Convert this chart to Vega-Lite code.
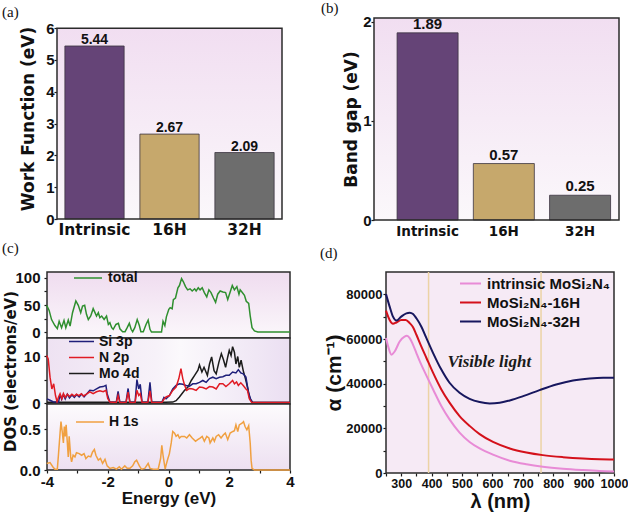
{
"$schema": "https://vega.github.io/schema/vega-lite/v6.json",
"padding": {"left": 1, "top": 1, "right": 0, "bottom": 0},
"background": "white",
"datasets": {
"bars_a": [{"sample": "Intrinsic", "value": 5.44}, {"sample": "16H", "value": 2.67}, {"sample": "32H", "value": 2.09}],
"bars_b": [{"sample": "Intrinsic", "value": 1.89}, {"sample": "16H", "value": 0.57}, {"sample": "32H", "value": 0.25}],
"tot": [{"E":-4.01,"v":49.4},{"E":-3.93,"v":40},{"E":-3.85,"v":23},{"E":-3.74,"v":12},{"E":-3.66,"v":6.2},{"E":-3.6,"v":20},{"E":-3.52,"v":8},{"E":-3.44,"v":21.6},{"E":-3.38,"v":8},{"E":-3.3,"v":22},{"E":-3.24,"v":11},{"E":-3.16,"v":35.8},{"E":-3.05,"v":57.4},{"E":-2.97,"v":49.4},{"E":-2.89,"v":35.8},{"E":-2.83,"v":48},{"E":-2.76,"v":49.4},{"E":-2.7,"v":32.7},{"E":-2.64,"v":23},{"E":-2.56,"v":29.6},{"E":-2.48,"v":43.2},{"E":-2.42,"v":35.8},{"E":-2.37,"v":29.6},{"E":-2.31,"v":35.8},{"E":-2.26,"v":26.5},{"E":-2.2,"v":29.6},{"E":-2.12,"v":23.4},{"E":-2.04,"v":29.6},{"E":-1.98,"v":14.2},{"E":-1.93,"v":17.3},{"E":-1.87,"v":8},{"E":-1.82,"v":5},{"E":-1.73,"v":14},{"E":-1.65,"v":16},{"E":-1.6,"v":6},{"E":-1.51,"v":0.6},{"E":-1.43,"v":0.6},{"E":-1.36,"v":8},{"E":-1.29,"v":16},{"E":-1.23,"v":5},{"E":-1.18,"v":0.6},{"E":-1.11,"v":8},{"E":-1.03,"v":23},{"E":-0.96,"v":12},{"E":-0.91,"v":0.6},{"E":-0.83,"v":0.6},{"E":-0.74,"v":14},{"E":-0.67,"v":22},{"E":-0.61,"v":5},{"E":-0.56,"v":0},{"E":-0.23,"v":0},{"E":-0.18,"v":20},{"E":-0.12,"v":12},{"E":-0.07,"v":28},{"E":0.01,"v":42},{"E":0.055,"v":45},{"E":0.12,"v":43},{"E":0.16,"v":60},{"E":0.23,"v":63},{"E":0.31,"v":82},{"E":0.36,"v":86},{"E":0.43,"v":99},{"E":0.49,"v":93},{"E":0.56,"v":84},{"E":0.63,"v":78},{"E":0.71,"v":80},{"E":0.78,"v":76},{"E":0.86,"v":80},{"E":0.91,"v":76},{"E":0.98,"v":82},{"E":1.04,"v":78},{"E":1.11,"v":82},{"E":1.18,"v":73},{"E":1.26,"v":65},{"E":1.33,"v":78},{"E":1.4,"v":73},{"E":1.48,"v":63},{"E":1.55,"v":55},{"E":1.62,"v":70},{"E":1.7,"v":76},{"E":1.79,"v":74},{"E":1.88,"v":73},{"E":1.95,"v":60},{"E":2.03,"v":74},{"E":2.1,"v":86},{"E":2.17,"v":78},{"E":2.25,"v":84},{"E":2.32,"v":70},{"E":2.36,"v":78},{"E":2.43,"v":73},{"E":2.5,"v":68},{"E":2.56,"v":57},{"E":2.64,"v":53},{"E":2.69,"v":30},{"E":2.75,"v":8},{"E":2.83,"v":2},{"E":2.94,"v":0},{"E":4.0,"v":0}],
"pdos": [
{"s":"Mo 4d","E":-4.0,"v":0.15},{"s":"Mo 4d","E":-0.1,"v":0.15},{"s":"Mo 4d","E":0.14,"v":0.2},{"s":"Mo 4d","E":0.25,"v":0.5},{"s":"Mo 4d","E":0.36,"v":1.3},{"s":"Mo 4d","E":0.53,"v":2.7},{"s":"Mo 4d","E":0.64,"v":3.4},{"s":"Mo 4d","E":0.75,"v":4.8},{"s":"Mo 4d","E":0.86,"v":5.9},{"s":"Mo 4d","E":0.97,"v":7.0},{"s":"Mo 4d","E":1.02,"v":8.1},{"s":"Mo 4d","E":1.1,"v":6.6},{"s":"Mo 4d","E":1.17,"v":7.6},{"s":"Mo 4d","E":1.28,"v":5.9},{"s":"Mo 4d","E":1.35,"v":8.3},{"s":"Mo 4d","E":1.42,"v":9.8},{"s":"Mo 4d","E":1.5,"v":6.9},{"s":"Mo 4d","E":1.57,"v":6.2},{"s":"Mo 4d","E":1.66,"v":8.7},{"s":"Mo 4d","E":1.74,"v":10.5},{"s":"Mo 4d","E":1.81,"v":9.2},{"s":"Mo 4d","E":1.88,"v":7.6},{"s":"Mo 4d","E":1.95,"v":9.8},{"s":"Mo 4d","E":2.0,"v":11.2},{"s":"Mo 4d","E":2.06,"v":10.1},{"s":"Mo 4d","E":2.11,"v":12.0},{"s":"Mo 4d","E":2.17,"v":10.8},{"s":"Mo 4d","E":2.22,"v":8.3},{"s":"Mo 4d","E":2.28,"v":9.9},{"s":"Mo 4d","E":2.33,"v":7.6},{"s":"Mo 4d","E":2.39,"v":9.1},{"s":"Mo 4d","E":2.46,"v":6.9},{"s":"Mo 4d","E":2.52,"v":5.5},{"s":"Mo 4d","E":2.6,"v":3.4},{"s":"Mo 4d","E":2.68,"v":0.9},{"s":"Mo 4d","E":2.77,"v":0.1},{"s":"Mo 4d","E":4.0,"v":0.1},
{"s":"Si 3p","E":-4.0,"v":0.9},{"s":"Si 3p","E":-3.9,"v":0.6},{"s":"Si 3p","E":-3.8,"v":0.3},{"s":"Si 3p","E":-3.62,"v":0.2},{"s":"Si 3p","E":-3.57,"v":1.9},{"s":"Si 3p","E":-3.52,"v":0.8},{"s":"Si 3p","E":-3.46,"v":1.8},{"s":"Si 3p","E":-3.4,"v":0.9},{"s":"Si 3p","E":-3.33,"v":1.9},{"s":"Si 3p","E":-3.26,"v":1.1},{"s":"Si 3p","E":-3.18,"v":1.7},{"s":"Si 3p","E":-3.1,"v":1.2},{"s":"Si 3p","E":-3.02,"v":1.8},{"s":"Si 3p","E":-2.94,"v":1.3},{"s":"Si 3p","E":-2.86,"v":1.9},{"s":"Si 3p","E":-2.78,"v":1.3},{"s":"Si 3p","E":-2.7,"v":1.9},{"s":"Si 3p","E":-2.59,"v":2.7},{"s":"Si 3p","E":-2.48,"v":2.6},{"s":"Si 3p","E":-2.37,"v":3.0},{"s":"Si 3p","E":-2.26,"v":3.4},{"s":"Si 3p","E":-2.15,"v":3.5},{"s":"Si 3p","E":-2.06,"v":3.75},{"s":"Si 3p","E":-2.02,"v":2.0},{"s":"Si 3p","E":-1.93,"v":0.2},{"s":"Si 3p","E":-1.72,"v":0.15},{"s":"Si 3p","E":-1.66,"v":2.5},{"s":"Si 3p","E":-1.6,"v":0.15},{"s":"Si 3p","E":-1.4,"v":0.15},{"s":"Si 3p","E":-1.33,"v":3.1},{"s":"Si 3p","E":-1.27,"v":0.15},{"s":"Si 3p","E":-1.1,"v":0.15},{"s":"Si 3p","E":-1.04,"v":5.0},{"s":"Si 3p","E":-0.98,"v":3.0},{"s":"Si 3p","E":-0.93,"v":4.0},{"s":"Si 3p","E":-0.87,"v":0.2},{"s":"Si 3p","E":-0.68,"v":0.15},{"s":"Si 3p","E":-0.61,"v":4.4},{"s":"Si 3p","E":-0.55,"v":0.15},{"s":"Si 3p","E":-0.22,"v":0.15},{"s":"Si 3p","E":-0.15,"v":1.2},{"s":"Si 3p","E":-0.08,"v":0.9},{"s":"Si 3p","E":0.03,"v":1.6},{"s":"Si 3p","E":0.14,"v":3.0},{"s":"Si 3p","E":0.25,"v":3.75},{"s":"Si 3p","E":0.36,"v":4.1},{"s":"Si 3p","E":0.47,"v":4.0},{"s":"Si 3p","E":0.58,"v":3.75},{"s":"Si 3p","E":0.69,"v":3.6},{"s":"Si 3p","E":0.8,"v":4.1},{"s":"Si 3p","E":0.91,"v":4.1},{"s":"Si 3p","E":1.02,"v":4.4},{"s":"Si 3p","E":1.13,"v":4.8},{"s":"Si 3p","E":1.24,"v":4.4},{"s":"Si 3p","E":1.35,"v":5.2},{"s":"Si 3p","E":1.46,"v":5.5},{"s":"Si 3p","E":1.57,"v":5.2},{"s":"Si 3p","E":1.68,"v":5.5},{"s":"Si 3p","E":1.79,"v":5.6},{"s":"Si 3p","E":1.89,"v":5.9},{"s":"Si 3p","E":2.0,"v":5.9},{"s":"Si 3p","E":2.11,"v":6.6},{"s":"Si 3p","E":2.22,"v":6.4},{"s":"Si 3p","E":2.3,"v":7.1},{"s":"Si 3p","E":2.38,"v":6.4},{"s":"Si 3p","E":2.46,"v":6.2},{"s":"Si 3p","E":2.55,"v":5.5},{"s":"Si 3p","E":2.63,"v":2.3},{"s":"Si 3p","E":2.7,"v":0.9},{"s":"Si 3p","E":2.77,"v":0.1},{"s":"Si 3p","E":4.0,"v":0.1},
{"s":"N 2p","E":-4.01,"v":10.1},{"s":"N 2p","E":-3.96,"v":9.4},{"s":"N 2p","E":-3.9,"v":5.5},{"s":"N 2p","E":-3.84,"v":3.0},{"s":"N 2p","E":-3.78,"v":4.1},{"s":"N 2p","E":-3.72,"v":1.6},{"s":"N 2p","E":-3.67,"v":0.3},{"s":"N 2p","E":-3.62,"v":1.3},{"s":"N 2p","E":-3.57,"v":2.0},{"s":"N 2p","E":-3.51,"v":0.9},{"s":"N 2p","E":-3.46,"v":2.0},{"s":"N 2p","E":-3.4,"v":1.2},{"s":"N 2p","E":-3.33,"v":1.9},{"s":"N 2p","E":-3.26,"v":1.4},{"s":"N 2p","E":-3.18,"v":1.9},{"s":"N 2p","E":-3.1,"v":1.5},{"s":"N 2p","E":-3.03,"v":1.9},{"s":"N 2p","E":-2.95,"v":1.6},{"s":"N 2p","E":-2.87,"v":2.0},{"s":"N 2p","E":-2.8,"v":1.5},{"s":"N 2p","E":-2.7,"v":1.9},{"s":"N 2p","E":-2.59,"v":2.4},{"s":"N 2p","E":-2.48,"v":2.0},{"s":"N 2p","E":-2.37,"v":2.4},{"s":"N 2p","E":-2.26,"v":2.6},{"s":"N 2p","E":-2.15,"v":2.4},{"s":"N 2p","E":-2.06,"v":2.7},{"s":"N 2p","E":-2.0,"v":1.0},{"s":"N 2p","E":-1.93,"v":0.2},{"s":"N 2p","E":-1.72,"v":0.1},{"s":"N 2p","E":-1.66,"v":1.6},{"s":"N 2p","E":-1.6,"v":0.1},{"s":"N 2p","E":-1.4,"v":0.1},{"s":"N 2p","E":-1.33,"v":2.3},{"s":"N 2p","E":-1.27,"v":0.1},{"s":"N 2p","E":-1.1,"v":0.1},{"s":"N 2p","E":-1.04,"v":2.7},{"s":"N 2p","E":-0.98,"v":1.6},{"s":"N 2p","E":-0.93,"v":2.0},{"s":"N 2p","E":-0.87,"v":0.1},{"s":"N 2p","E":-0.68,"v":0.1},{"s":"N 2p","E":-0.61,"v":2.6},{"s":"N 2p","E":-0.55,"v":0.1},{"s":"N 2p","E":-0.22,"v":0.1},{"s":"N 2p","E":-0.15,"v":0.8},{"s":"N 2p","E":-0.08,"v":1.3},{"s":"N 2p","E":0.03,"v":1.6},{"s":"N 2p","E":0.14,"v":2.7},{"s":"N 2p","E":0.25,"v":3.4},{"s":"N 2p","E":0.34,"v":5.2},{"s":"N 2p","E":0.41,"v":7.3},{"s":"N 2p","E":0.47,"v":5.2},{"s":"N 2p","E":0.53,"v":3.8},{"s":"N 2p","E":0.6,"v":2.7},{"s":"N 2p","E":0.69,"v":3.1},{"s":"N 2p","E":0.8,"v":3.0},{"s":"N 2p","E":0.91,"v":2.7},{"s":"N 2p","E":1.02,"v":3.4},{"s":"N 2p","E":1.13,"v":3.3},{"s":"N 2p","E":1.24,"v":3.0},{"s":"N 2p","E":1.35,"v":3.5},{"s":"N 2p","E":1.46,"v":3.4},{"s":"N 2p","E":1.57,"v":3.0},{"s":"N 2p","E":1.68,"v":4.1},{"s":"N 2p","E":1.79,"v":4.1},{"s":"N 2p","E":1.89,"v":3.5},{"s":"N 2p","E":2.0,"v":4.1},{"s":"N 2p","E":2.11,"v":4.8},{"s":"N 2p","E":2.17,"v":4.1},{"s":"N 2p","E":2.24,"v":4.5},{"s":"N 2p","E":2.3,"v":3.75},{"s":"N 2p","E":2.38,"v":4.3},{"s":"N 2p","E":2.46,"v":3.75},{"s":"N 2p","E":2.55,"v":3.0},{"s":"N 2p","E":2.6,"v":2.7},{"s":"N 2p","E":2.66,"v":0.9},{"s":"N 2p","E":2.74,"v":0.1},{"s":"N 2p","E":4.0,"v":0.1}],
"h1s": [{"E":-4.01,"v":0.08},{"E":-3.9,"v":0.09},{"E":-3.81,"v":0.04},{"E":-3.74,"v":0.01},{"E":-3.66,"v":0.01},{"E":-3.62,"v":0.2},{"E":-3.57,"v":0.45},{"E":-3.54,"v":0.59},{"E":-3.5,"v":0.47},{"E":-3.46,"v":0.33},{"E":-3.43,"v":0.53},{"E":-3.4,"v":0.41},{"E":-3.37,"v":0.55},{"E":-3.33,"v":0.33},{"E":-3.3,"v":0.16},{"E":-3.27,"v":0.41},{"E":-3.22,"v":0.16},{"E":-3.19,"v":0.1},{"E":-3.14,"v":0.18},{"E":-3.08,"v":0.16},{"E":-3.03,"v":0.21},{"E":-2.94,"v":0.2},{"E":-2.86,"v":0.18},{"E":-2.78,"v":0.2},{"E":-2.72,"v":0.14},{"E":-2.64,"v":0.17},{"E":-2.56,"v":0.16},{"E":-2.5,"v":0.22},{"E":-2.44,"v":0.25},{"E":-2.39,"v":0.18},{"E":-2.31,"v":0.12},{"E":-2.24,"v":0.14},{"E":-2.17,"v":0.08},{"E":-2.09,"v":0.13},{"E":-2.02,"v":0.05},{"E":-1.93,"v":0.02},{"E":-1.82,"v":0.03},{"E":-1.71,"v":0.01},{"E":-1.62,"v":0.04},{"E":-1.55,"v":0.01},{"E":-1.44,"v":0.05},{"E":-1.36,"v":0.02},{"E":-1.27,"v":0.02},{"E":-1.18,"v":0.05},{"E":-1.11,"v":0.1},{"E":-1.05,"v":0.12},{"E":-0.96,"v":0.05},{"E":-0.89,"v":0.01},{"E":-0.78,"v":0.02},{"E":-0.67,"v":0.08},{"E":-0.61,"v":0.02},{"E":-0.5,"v":0.01},{"E":-0.34,"v":0.01},{"E":-0.26,"v":0.14},{"E":-0.22,"v":0.3},{"E":-0.18,"v":0.18},{"E":-0.11,"v":0.01},{"E":-0.08,"v":0.06},{"E":-0.02,"v":0.14},{"E":0.03,"v":0.2},{"E":0.09,"v":0.33},{"E":0.14,"v":0.47},{"E":0.2,"v":0.45},{"E":0.25,"v":0.41},{"E":0.31,"v":0.43},{"E":0.36,"v":0.39},{"E":0.42,"v":0.41},{"E":0.53,"v":0.41},{"E":0.6,"v":0.39},{"E":0.69,"v":0.43},{"E":0.78,"v":0.39},{"E":0.89,"v":0.35},{"E":0.96,"v":0.37},{"E":1.04,"v":0.39},{"E":1.11,"v":0.41},{"E":1.18,"v":0.35},{"E":1.26,"v":0.41},{"E":1.33,"v":0.39},{"E":1.37,"v":0.33},{"E":1.46,"v":0.39},{"E":1.51,"v":0.35},{"E":1.57,"v":0.41},{"E":1.65,"v":0.43},{"E":1.73,"v":0.39},{"E":1.81,"v":0.43},{"E":1.87,"v":0.45},{"E":1.95,"v":0.37},{"E":2.03,"v":0.45},{"E":2.12,"v":0.47},{"E":2.17,"v":0.48},{"E":2.22,"v":0.55},{"E":2.28,"v":0.47},{"E":2.33,"v":0.55},{"E":2.42,"v":0.57},{"E":2.47,"v":0.59},{"E":2.52,"v":0.53},{"E":2.58,"v":0.49},{"E":2.64,"v":0.54},{"E":2.69,"v":0.33},{"E":2.72,"v":0.12},{"E":2.75,"v":0.02},{"E":2.83,"v":0},{"E":4.0,"v":0}],
"alpha": [
{"sample":"intrinsic MoSi₂N₄","lambda":250,"alpha":60400},{"sample":"intrinsic MoSi₂N₄","lambda":257,"alpha":56700},{"sample":"intrinsic MoSi₂N₄","lambda":268,"alpha":53000},{"sample":"intrinsic MoSi₂N₄","lambda":279,"alpha":54500},{"sample":"intrinsic MoSi₂N₄","lambda":295,"alpha":58900},{"sample":"intrinsic MoSi₂N₄","lambda":311,"alpha":61100},{"sample":"intrinsic MoSi₂N₄","lambda":319,"alpha":61400},{"sample":"intrinsic MoSi₂N₄","lambda":328,"alpha":60400},{"sample":"intrinsic MoSi₂N₄","lambda":339,"alpha":57400},{"sample":"intrinsic MoSi₂N₄","lambda":350,"alpha":53700},{"sample":"intrinsic MoSi₂N₄","lambda":366,"alpha":48500},{"sample":"intrinsic MoSi₂N₄","lambda":383,"alpha":43600},{"sample":"intrinsic MoSi₂N₄","lambda":405,"alpha":37400},{"sample":"intrinsic MoSi₂N₄","lambda":432,"alpha":30000},{"sample":"intrinsic MoSi₂N₄","lambda":459,"alpha":24000},{"sample":"intrinsic MoSi₂N₄","lambda":492,"alpha":18100},{"sample":"intrinsic MoSi₂N₄","lambda":525,"alpha":13900},{"sample":"intrinsic MoSi₂N₄","lambda":558,"alpha":11000},{"sample":"intrinsic MoSi₂N₄","lambda":602,"alpha":8200},{"sample":"intrinsic MoSi₂N₄","lambda":657,"alpha":5500},{"sample":"intrinsic MoSi₂N₄","lambda":712,"alpha":3900},{"sample":"intrinsic MoSi₂N₄","lambda":766,"alpha":2800},{"sample":"intrinsic MoSi₂N₄","lambda":832,"alpha":1900},{"sample":"intrinsic MoSi₂N₄","lambda":898,"alpha":1300},{"sample":"intrinsic MoSi₂N₄","lambda":953,"alpha":900},{"sample":"intrinsic MoSi₂N₄","lambda":1000,"alpha":700},
{"sample":"MoSi₂N₄-16H","lambda":250,"alpha":72700},{"sample":"MoSi₂N₄-16H","lambda":262,"alpha":68500},{"sample":"MoSi₂N₄-16H","lambda":273,"alpha":66800},{"sample":"MoSi₂N₄-16H","lambda":284,"alpha":67400},{"sample":"MoSi₂N₄-16H","lambda":300,"alpha":68500},{"sample":"MoSi₂N₄-16H","lambda":315,"alpha":68500},{"sample":"MoSi₂N₄-16H","lambda":328,"alpha":67100},{"sample":"MoSi₂N₄-16H","lambda":339,"alpha":65300},{"sample":"MoSi₂N₄-16H","lambda":350,"alpha":61900},{"sample":"MoSi₂N₄-16H","lambda":366,"alpha":56700},{"sample":"MoSi₂N₄-16H","lambda":383,"alpha":51500},{"sample":"MoSi₂N₄-16H","lambda":405,"alpha":44800},{"sample":"MoSi₂N₄-16H","lambda":432,"alpha":37400},{"sample":"MoSi₂N₄-16H","lambda":459,"alpha":31500},{"sample":"MoSi₂N₄-16H","lambda":492,"alpha":25500},{"sample":"MoSi₂N₄-16H","lambda":525,"alpha":21100},{"sample":"MoSi₂N₄-16H","lambda":558,"alpha":17400},{"sample":"MoSi₂N₄-16H","lambda":602,"alpha":13900},{"sample":"MoSi₂N₄-16H","lambda":657,"alpha":11000},{"sample":"MoSi₂N₄-16H","lambda":712,"alpha":9200},{"sample":"MoSi₂N₄-16H","lambda":766,"alpha":8000},{"sample":"MoSi₂N₄-16H","lambda":832,"alpha":7100},{"sample":"MoSi₂N₄-16H","lambda":898,"alpha":6500},{"sample":"MoSi₂N₄-16H","lambda":953,"alpha":6200},{"sample":"MoSi₂N₄-16H","lambda":1000,"alpha":6100},
{"sample":"MoSi₂N₄-32H","lambda":250,"alpha":80100},{"sample":"MoSi₂N₄-32H","lambda":262,"alpha":74500},{"sample":"MoSi₂N₄-32H","lambda":273,"alpha":70000},{"sample":"MoSi₂N₄-32H","lambda":284,"alpha":68250},{"sample":"MoSi₂N₄-32H","lambda":300,"alpha":70000},{"sample":"MoSi₂N₄-32H","lambda":317,"alpha":71500},{"sample":"MoSi₂N₄-32H","lambda":328,"alpha":71800},{"sample":"MoSi₂N₄-32H","lambda":339,"alpha":71200},{"sample":"MoSi₂N₄-32H","lambda":350,"alpha":69300},{"sample":"MoSi₂N₄-32H","lambda":366,"alpha":65600},{"sample":"MoSi₂N₄-32H","lambda":383,"alpha":60400},{"sample":"MoSi₂N₄-32H","lambda":405,"alpha":53700},{"sample":"MoSi₂N₄-32H","lambda":432,"alpha":46300},{"sample":"MoSi₂N₄-32H","lambda":459,"alpha":40400},{"sample":"MoSi₂N₄-32H","lambda":492,"alpha":35900},{"sample":"MoSi₂N₄-32H","lambda":525,"alpha":33200},{"sample":"MoSi₂N₄-32H","lambda":558,"alpha":31750},{"sample":"MoSi₂N₄-32H","lambda":591,"alpha":31150},{"sample":"MoSi₂N₄-32H","lambda":624,"alpha":31450},{"sample":"MoSi₂N₄-32H","lambda":657,"alpha":32500},{"sample":"MoSi₂N₄-32H","lambda":701,"alpha":34400},{"sample":"MoSi₂N₄-32H","lambda":755,"alpha":37100},{"sample":"MoSi₂N₄-32H","lambda":810,"alpha":39600},{"sample":"MoSi₂N₄-32H","lambda":865,"alpha":41400},{"sample":"MoSi₂N₄-32H","lambda":920,"alpha":42300},{"sample":"MoSi₂N₄-32H","lambda":964,"alpha":42600},{"sample":"MoSi₂N₄-32H","lambda":1000,"alpha":42600}]
},
"spacing": 3,
"resolve": {"scale": {"color": "independent"}, "legend": {"color": "independent"}},
"vconcat": [
{"spacing": 0,
 "resolve": {"scale": {"color": "independent"}, "legend": {"color": "independent"}},
 "hconcat": [
  {"width": 1, "height": 1, "data": {"values": [{}]}, "mark": {"type": "rect", "opacity": 0}, "encoding": {}},
  {"spacing": 38,
   "resolve": {"scale": {"color": "independent"}, "legend": {"color": "independent"}},
   "hconcat": [
    {"width": 225, "height": 201,
     "title": {"text": "(a)", "dx": -55, "offset": -1.5},
     "layer": [
      {"data": {"values": [{}]},
       "mark": {"type": "rect", "fill": {"gradient": "linear", "x1": 0, "y1": 0, "x2": 0, "y2": 1, "stops": [{"offset": 0, "color": "#f1def1"}, {"offset": 1, "color": "#fbf8fb"}]}},
       "encoding": {"y": {"datum": 0, "type": "quantitative"}, "y2": {"datum": 6}}},
      {"data": {"name": "bars_a"},
       "mark": {"type": "bar", "stroke": "#3b3340", "strokeWidth": 0.8},
       "encoding": {
        "x": {"field": "sample", "type": "nominal", "scale": {"domain": ["Intrinsic", "16H", "32H"], "paddingInner": 0.21, "paddingOuter": 0.105}, "axis": {"title": null, "ticks": false, "labelAngle": 0, "labelPadding": 3, "labelOverlap": false, "labelFont": "DejaVu Sans", "labelFontSize": 15.5}},
        "y": {"field": "value", "type": "quantitative", "scale": {"domain": [0, 6.32], "nice": false}, "axis": {"values": [0, 1, 2, 3, 4, 5, 6], "tickCount": 50, "format": "d", "labelOverlap": false, "labelFontSize": 15, "title": "Work Function (eV)", "titleFont": "DejaVu Sans", "titleFontSize": 17, "titlePadding": 8, "labelPadding": 0}},
        "color": {"field": "sample", "type": "nominal", "scale": {"domain": ["Intrinsic", "16H", "32H"], "range": ["#654477", "#c6a86c", "#6d6d6d"]}, "legend": null}}},
      {"data": {"name": "bars_a"},
       "mark": {"type": "text", "baseline": "alphabetic", "dy": -2, "fontSize": 14, "fontWeight": "bold", "font": "Liberation Sans", "color": "#111111"},
       "encoding": {"x": {"field": "sample", "type": "nominal"}, "y": {"field": "value", "type": "quantitative"}, "text": {"field": "value", "type": "quantitative", "format": ".2f"}}},
      {"data": {"values": [{}]},
       "mark": {"type": "rect", "fill": "transparent", "stroke": "#2b2b2b", "strokeWidth": 1.5},
       "encoding": {"y": {"datum": 0, "type": "quantitative"}, "y2": {"datum": 6}}}
     ]},
    {"width": 245, "height": 202,
     "title": {"text": "(b)", "dx": -53, "offset": -1.5},
     "layer": [
      {"data": {"values": [{}]},
       "mark": {"type": "rect", "fill": {"gradient": "linear", "x1": 0, "y1": 0, "x2": 0, "y2": 1, "stops": [{"offset": 0, "color": "#f1def1"}, {"offset": 1, "color": "#fbf8fb"}]}},
       "encoding": {"y": {"datum": 0, "type": "quantitative"}, "y2": {"datum": 2.04}}},
      {"data": {"name": "bars_b"},
       "mark": {"type": "bar", "stroke": "#3b3340", "strokeWidth": 0.8},
       "encoding": {
        "x": {"field": "sample", "type": "nominal", "scale": {"domain": ["Intrinsic", "16H", "32H"], "paddingInner": 0.2, "paddingOuter": 0.2065, "align": 0.733}, "axis": {"title": null, "ticks": false, "labelAngle": 0, "labelPadding": 4, "labelOverlap": false, "labelFont": "DejaVu Sans", "labelFontSize": 13.5}},
        "y": {"field": "value", "type": "quantitative", "scale": {"domain": [0, 2.04], "nice": false}, "axis": {"values": [0, 1, 2], "tickCount": 50, "labelExpr": "'' + round(datum.value)", "labelOverlap": false, "labelBound": false, "labelFontSize": 15, "title": "Band gap (eV)", "titleFont": "DejaVu Sans", "titleFontSize": 17, "titlePadding": 2, "labelPadding": 0}},
        "color": {"field": "sample", "type": "nominal", "scale": {"domain": ["Intrinsic", "16H", "32H"], "range": ["#654477", "#c6a86c", "#6d6d6d"]}, "legend": null}}},
      {"data": {"name": "bars_b"},
       "mark": {"type": "text", "baseline": "alphabetic", "dy": -4, "fontSize": 15, "fontWeight": "bold", "font": "Liberation Sans", "color": "#111111"},
       "encoding": {"x": {"field": "sample", "type": "nominal"}, "y": {"field": "value", "type": "quantitative"}, "text": {"field": "value", "type": "quantitative", "format": ".2f"}}},
      {"data": {"values": [{}]},
       "mark": {"type": "rect", "fill": "transparent", "stroke": "#2b2b2b", "strokeWidth": 1.5},
       "encoding": {"y": {"datum": 0, "type": "quantitative"}, "y2": {"datum": 2.04}}}
     ]}
   ]}
 ]},
{"spacing": 0,
 "resolve": {"scale": {"color": "independent"}, "legend": {"color": "independent"}},
 "hconcat": [
  {"width": 1, "height": 1, "data": {"values": [{}]}, "mark": {"type": "rect", "opacity": 0}, "encoding": {}},
  {"spacing": 25,
   "resolve": {"scale": {"color": "independent"}, "legend": {"color": "independent"}},
   "hconcat": [
    {"spacing": 0, "bounds": "flush",
     "resolve": {"scale": {"color": "independent"}, "legend": {"color": "independent"}},
     "vconcat": [
      {"width": 243, "height": 66,
       "title": {"text": "(c)", "dx": -45, "offset": 14},
       "layer": [
        {"data": {"values": [{}]},
         "mark": {"type": "rect", "fill": {"gradient": "linear", "x1": 0, "y1": 0, "x2": 0, "y2": 1, "stops": [{"offset": 0, "color": "#efdcef"}, {"offset": 1, "color": "#fbf7fb"}]}, "stroke": "#2b2b2b", "strokeWidth": 1.5},
         "encoding": {"x": {"datum": -4, "type": "quantitative", "scale": {"domain": [-4, 4], "nice": false}, "axis": null}, "x2": {"datum": 4}, "y": {"datum": -11.1, "type": "quantitative", "scale": {"domain": [-11.1, 111.1], "nice": false, "zero": false}}, "y2": {"datum": 111.1}}},
        {"data": {"name": "tot"},
         "mark": {"type": "line", "strokeWidth": 1.5},
         "encoding": {
          "x": {"field": "E", "type": "quantitative", "scale": {"domain": [-4, 4], "nice": false}, "axis": null},
          "y": {"field": "v", "type": "quantitative", "scale": {"domain": [-11.1, 111.1], "nice": false, "zero": false}, "axis": {"values": [0, 25, 50, 75, 100], "tickCount": 50, "format": "d", "labelOverlap": false, "labelExpr": "datum.value % 50 == 0 ? datum.label : ''", "title": null, "labelPadding": 4}},
          "color": {"datum": "total", "scale": {"domain": ["total"], "range": ["#2f8f2f"]}, "legend": {"title": null, "orient": "none", "legendX": 33, "legendY": -2, "symbolType": "M-2,0H2", "symbolSize": 196, "symbolStrokeWidth": 1.5, "rowPadding": 0, "labelFontSize": 14, "labelOffset": 12}}}}
       ]},
      {"width": 243, "height": 66,
       "layer": [
        {"data": {"values": [{}]},
         "mark": {"type": "rect", "fill": {"gradient": "linear", "x1": 0, "y1": 0, "x2": 1, "y2": 0, "stops": [{"offset": 0, "color": "#eee2f2"}, {"offset": 0.45, "color": "#f7f2f9"}, {"offset": 0.55, "color": "#fbf9fc"}, {"offset": 1, "color": "#ebdff2"}]}, "stroke": "#2b2b2b", "strokeWidth": 1.5},
         "encoding": {"x": {"datum": -4, "type": "quantitative", "scale": {"domain": [-4, 4], "nice": false}, "axis": null}, "x2": {"datum": 4}, "y": {"datum": -0.2, "type": "quantitative", "scale": {"domain": [-0.2, 13.83], "nice": false, "zero": false}}, "y2": {"datum": 13.83}}},
        {"data": {"name": "pdos"},
         "mark": {"type": "line", "strokeWidth": 1.5},
         "encoding": {
          "x": {"field": "E", "type": "quantitative", "scale": {"domain": [-4, 4], "nice": false}, "axis": null},
          "y": {"field": "v", "type": "quantitative", "scale": {"domain": [-0.2, 13.83], "nice": false, "zero": false}, "axis": {"values": [0, 5, 10], "tickCount": 50, "format": "d", "labelOverlap": false, "labelExpr": "datum.value % 10 == 0 ? datum.label : ''", "title": "DOS (electrons/eV)", "titleFont": "DejaVu Sans", "titleFontSize": 15, "titlePadding": 5, "labelPadding": 4}},
          "color": {"field": "s", "type": "nominal", "scale": {"domain": ["Si 3p", "N 2p", "Mo 4d"], "range": ["#1f1f7a", "#e01b24", "#1c1c1c"]}, "legend": {"title": null, "orient": "none", "legendX": 26, "legendY": -5, "symbolType": "M-1.667,0H1.667", "symbolSize": 225, "symbolStrokeWidth": 1.5, "rowPadding": 0, "labelFontSize": 14, "labelOffset": 9}}}}
       ]},
      {"width": 243, "height": 66,
       "layer": [
        {"data": {"values": [{}]},
         "mark": {"type": "rect", "fill": {"gradient": "linear", "x1": 0, "y1": 0, "x2": 0, "y2": 1, "stops": [{"offset": 0, "color": "#fdfbfd"}, {"offset": 1, "color": "#ede0f1"}]}, "stroke": "#2b2b2b", "strokeWidth": 1.5},
         "encoding": {"x": {"datum": -4, "type": "quantitative", "scale": {"domain": [-4, 4], "nice": false}}, "x2": {"datum": 4}, "y": {"datum": 0, "type": "quantitative", "scale": {"domain": [0, 0.805], "nice": false}}, "y2": {"datum": 0.805}}},
        {"data": {"name": "h1s"},
         "mark": {"type": "line", "strokeWidth": 1.5},
         "encoding": {
          "x": {"field": "E", "type": "quantitative", "scale": {"domain": [-4, 4], "nice": false}, "axis": {"values": [-4, -3, -2, -1, 0, 1, 2, 3, 4], "tickCount": 50, "labelOverlap": false, "labelFlush": false, "labelExpr": "datum.value % 2 == 0 ? (datum.value < 0 ? '-' + abs(datum.value) : '' + datum.value) : ''", "title": "Energy (eV)", "titleFontSize": 17, "labelFontSize": 15, "labelPadding": 1, "titlePadding": 1}},
          "y": {"field": "v", "type": "quantitative", "scale": {"domain": [0, 0.805], "nice": false}, "axis": {"values": [0, 0.25, 0.5], "tickCount": 50, "labelOverlap": false, "labelExpr": "datum.value == 0 ? '0.0' : (datum.value == 0.5 ? '0.5' : '')", "title": null, "labelPadding": 4}},
          "color": {"datum": "H 1s", "scale": {"domain": ["H 1s"], "range": ["#f0a040"]}, "legend": {"title": null, "orient": "none", "legendX": 35, "legendY": 10, "symbolType": "M-2,0H2", "symbolSize": 196, "symbolStrokeWidth": 1.5, "rowPadding": 0, "labelFontSize": 14, "labelOffset": 11}}}}
       ]}
     ]},
    {"width": 228, "height": 201,
     "title": {"text": "(d)", "dx": -66, "offset": 10},
     "layer": [
      {"data": {"values": [{}]},
       "mark": {"type": "rect", "fill": "#f6eaf5", "stroke": "#2b2b2b", "strokeWidth": 1.5},
       "encoding": {"x": {"datum": 250, "type": "quantitative", "scale": {"domain": [250, 1000], "nice": false}}, "x2": {"datum": 1000}, "y": {"datum": 0, "type": "quantitative", "scale": {"domain": [0, 90000], "nice": false}}, "y2": {"datum": 90000}}},
      {"data": {"values": [{"lambda": 390}, {"lambda": 760}]},
       "mark": {"type": "rule", "color": "#ecd3a5", "strokeWidth": 1.5},
       "encoding": {"x": {"field": "lambda", "type": "quantitative"}}},
      {"data": {"values": [{}]},
       "mark": {"type": "text", "text": "Visible light", "font": "Liberation Serif", "fontStyle": "italic", "fontWeight": "bold", "fontSize": 17, "color": "#1a1a1a", "align": "center", "baseline": "middle"},
       "encoding": {"x": {"datum": 590, "type": "quantitative"}, "y": {"datum": 49500, "type": "quantitative"}}},
      {"data": {"name": "alpha"},
       "mark": {"type": "line", "strokeWidth": 2, "interpolate": "monotone"},
       "encoding": {
        "x": {"field": "lambda", "type": "quantitative", "scale": {"domain": [250, 1000], "nice": false}, "axis": {"values": [250, 300, 350, 400, 450, 500, 550, 600, 650, 700, 750, 800, 850, 900, 950, 1000], "tickCount": 50, "format": "d", "labelOverlap": false, "labelFlush": false, "labelExpr": "datum.value % 100 == 0 ? datum.label : ''", "title": "λ (nm)", "titleFontSize": 20, "labelFontSize": 12.5, "labelPadding": 1, "titlePadding": 2}},
        "y": {"field": "alpha", "type": "quantitative", "scale": {"domain": [0, 90000], "nice": false}, "axis": {"values": [0, 10000, 20000, 30000, 40000, 50000, 60000, 70000, 80000], "tickCount": 50, "labelOverlap": false, "format": "d", "labelExpr": "datum.value % 20000 == 0 ? datum.label : ''", "title": "α (cm⁻¹)", "titleFontSize": 21, "labelFontSize": 13, "labelPadding": 1, "titlePadding": 1}},
        "color": {"field": "sample", "type": "nominal", "scale": {"domain": ["intrinsic MoSi₂N₄", "MoSi₂N₄-16H", "MoSi₂N₄-32H"], "range": ["#e88bd6", "#d4111b", "#17175e"]}, "legend": {"title": null, "orient": "none", "legendX": 73.5, "legendY": 0.5, "symbolType": "M-1.05,0H1.05", "symbolSize": 400, "symbolStrokeWidth": 2, "rowPadding": 0, "labelFontSize": 15, "labelOffset": 5.5, "labelLimit": 300}}}}
     ]}
   ]}
 ]}
],
"config": {
 "view": {"stroke": null},
 "font": "Liberation Sans",
 "axis": {"domain": false, "grid": false, "labelOverlap": false, "tickColor": "#1a1a1a", "tickWidth": 1.2, "tickSize": 3, "labelColor": "#111111", "titleColor": "#111111", "labelFont": "Liberation Sans", "labelFontWeight": "bold", "titleFont": "Liberation Sans", "titleFontWeight": "bold", "labelFontSize": 15, "labelPadding": 1},
 "title": {"font": "Liberation Serif", "fontSize": 15, "fontWeight": "normal", "color": "#111111", "anchor": "start", "frame": "group", "baseline": "bottom"},
 "legend": {"labelFont": "Liberation Sans", "labelFontWeight": "bold", "labelColor": "#111111", "symbolType": "stroke", "padding": 0}
}
}
